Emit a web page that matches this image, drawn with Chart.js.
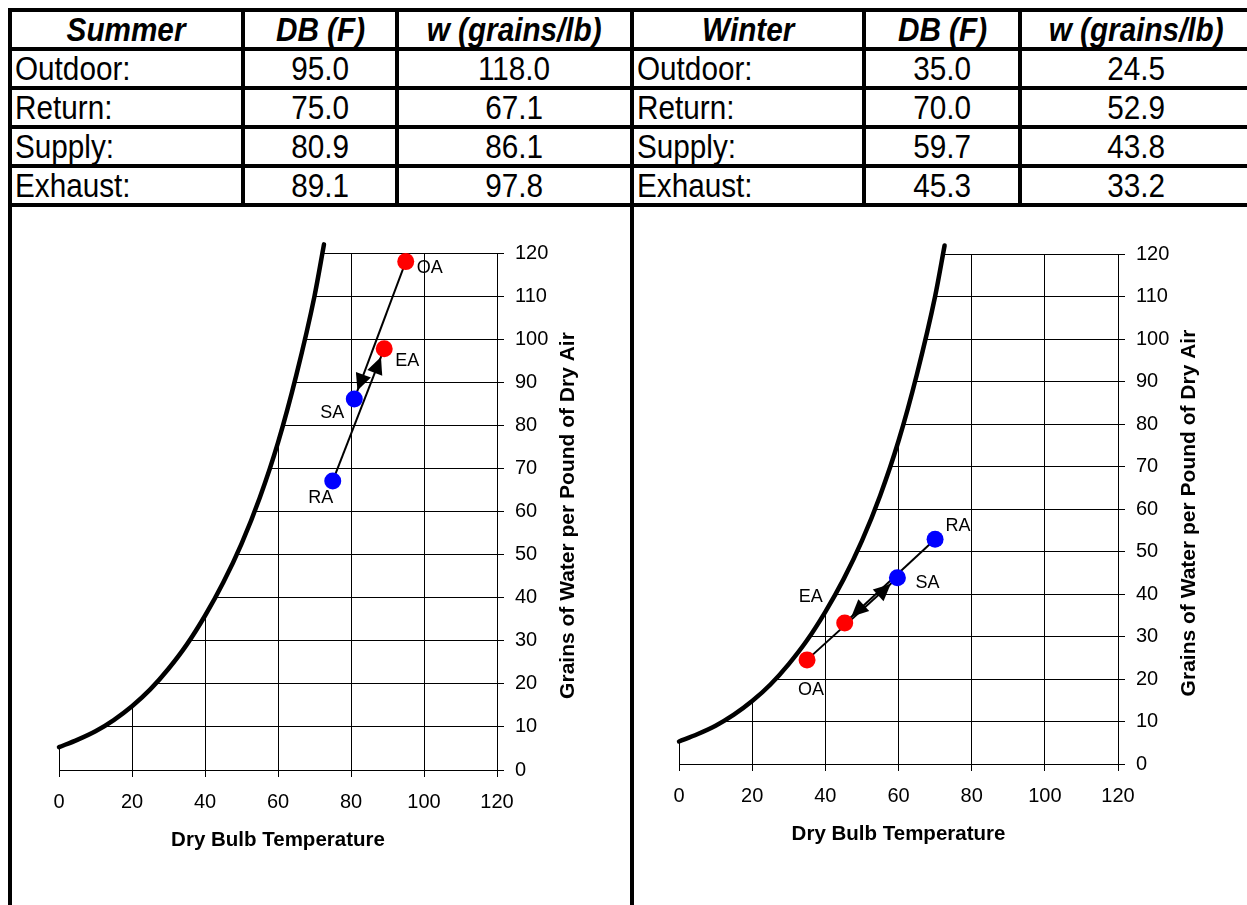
<!DOCTYPE html>
<html>
<head>
<meta charset="utf-8">
<title>Heat recovery - summer / winter</title>
<script src="https://cdn.jsdelivr.net/npm/chart.js@4.4.1/dist/chart.umd.min.js"></script>
<style>
  html, body { margin: 0; padding: 0; background: #fff; overflow: hidden; width: 1247px; height: 905px; }
  #sheet { position: absolute; left: 8px; top: 8px; width: 1242px; border-collapse: collapse; table-layout: fixed;
           font-family: Arial, "Liberation Sans", sans-serif; color: #000; }
  #sheet td { border: 4px solid #000; padding: 0; height: 35px; font-size: 33px; line-height: 35px;
              text-align: center; white-space: nowrap; overflow: hidden; }
  #sheet td span { display: inline-block; transform: scaleX(0.9); transform-origin: center center; }
  #sheet td.lbl { text-align: left; padding-left: 3px; }
  #sheet td.lbl span { transform-origin: left center; }
  #sheet tr.head td { font-weight: bold; font-style: italic; }
  #sheet tr.charts td { height: 720px; }
  canvas { position: absolute; }
  #summer { left: 10px; top: 205px; }
  #winter { left: 632px; top: 205px; }
</style>
</head>
<body>
<table id="sheet">
  <colgroup>
    <col style="width:233px"><col style="width:154px"><col style="width:235px">
    <col style="width:232px"><col style="width:156px"><col style="width:232px">
  </colgroup>
  <tbody id="rows"></tbody>
</table>
<canvas id="summer" width="618" height="700"></canvas>
<canvas id="winter" width="618" height="700"></canvas>
<script>
const headers = ['Summer', 'DB (F)', 'w (grains/lb)', 'Winter', 'DB (F)', 'w (grains/lb)'];
const rowLabels = ['Outdoor:', 'Return:', 'Supply:', 'Exhaust:'];
const pointNames = ['OA', 'RA', 'SA', 'EA'];

// dry bulb (F) and humidity ratio (grains/lb) for OA, RA, SA, EA
const summerDB = [95.0, 75.0, 80.9, 89.1];
const summerW = [118.0, 67.1, 86.1, 97.8];
const winterDB = [35.0, 70.0, 59.7, 45.3];
const winterW = [24.5, 52.9, 43.8, 33.2];

// saturation curve
const satDB = [0, 5, 10, 15, 20, 25, 30, 35, 40, 45, 50, 55, 60, 65, 70, 72.6];
const satW = [5.3, 7.0, 9.0, 11.6, 14.8, 18.7, 23.5, 29.1, 35.8, 43.5, 52.5, 63.2, 76.0, 91.6, 110.0, 122.0];

const xTicks = [0, 20, 40, 60, 80, 100, 120];
const yTicks = [0, 10, 20, 30, 40, 50, 60, 70, 80, 90, 100, 110, 120];

const arrowPairs = [['OA', 'SA'], ['RA', 'EA']];
const pointColors = ['#ff0000', '#0000ff', '#0000ff', '#ff0000'];

const FONT = 'Arial, "Liberation Sans", sans-serif';

// table
let html = '<tr class="head">' + headers.map(h => `<td><span>${h}</span></td>`).join('') + '</tr>';
for (let i = 0; i < rowLabels.length; i++) {
    html += '<tr>' +
        `<td class="lbl"><span>${rowLabels[i]}</span></td>` +
        `<td><span>${summerDB[i].toFixed(1)}</span></td>` +
        `<td><span>${summerW[i].toFixed(1)}</span></td>` +
        `<td class="lbl"><span>${rowLabels[i]}</span></td>` +
        `<td><span>${winterDB[i].toFixed(1)}</span></td>` +
        `<td><span>${winterW[i].toFixed(1)}</span></td>` +
        '</tr>';
}
html += '<tr class="charts"><td colspan="3"></td><td colspan="3"></td></tr>';
document.getElementById('rows').innerHTML = html;

// arrow heads, point labels and the right hand axis title (reads bottom to top)
const psychro = {
    id: 'psychro',
    afterDatasetDraw(chart, args) {
        const ds = chart.data.datasets[args.index];
        if (!ds.arrow) return;
        const pts = args.meta.data;
        const a = pts[0], b = pts[1];
        const ang = Math.atan2(b.y - a.y, b.x - a.x);
        const ctx = chart.ctx;
        ctx.save();
        ctx.translate(b.x - Math.cos(ang) * 9, b.y - Math.sin(ang) * 9);
        ctx.rotate(ang);
        ctx.beginPath();
        ctx.moveTo(0, 0);
        ctx.lineTo(-17, -8);
        ctx.lineTo(-17, 8);
        ctx.closePath();
        ctx.fillStyle = '#000';
        ctx.fill();
        ctx.restore();
    },
    afterDraw(chart, args, opts) {
        const ctx = chart.ctx;
        const meta = chart.getDatasetMeta(0);
        ctx.save();
        ctx.fillStyle = '#000';
        ctx.font = '18px ' + FONT;
        ctx.textAlign = 'center';
        ctx.textBaseline = 'middle';
        meta.data.forEach((p, i) => {
            const off = opts.offsets[pointNames[i]];
            ctx.fillText(pointNames[i], p.x + off[0], p.y + off[1]);
        });
        const y = chart.scales.y;
        const area = chart.chartArea;
        ctx.translate(y.left + 71, (area.top + area.bottom) / 2 + 4);
        ctx.rotate(-Math.PI / 2);
        ctx.font = 'bold 21px ' + FONT;
        ctx.fillText(opts.yTitle, 0, 0);
        ctx.restore();
    }
};

function makeChart(id, db, w, padding, offsets) {
    const pos = {};
    pointNames.forEach((n, i) => pos[n] = {x: db[i], y: w[i]});

    const datasets = [{
        data: pointNames.map(n => pos[n]),
        showLine: false,
        pointRadius: 8.5,
        pointBorderWidth: 0,
        pointBackgroundColor: pointColors,
        order: 0
    }];
    arrowPairs.forEach(pair => {
        datasets.push({
            data: [pos[pair[0]], pos[pair[1]]],
            arrow: true,
            borderColor: '#000',
            borderWidth: 2,
            pointRadius: 0,
            order: 1
        });
    });
    datasets.push({
        data: satDB.map((t, i) => ({x: t, y: satW[i]})),
        borderColor: '#000',
        borderWidth: 4.5,
        borderCapStyle: 'round',
        cubicInterpolationMode: 'monotone',
        pointRadius: 0,
        fill: 'end',
        backgroundColor: '#fff',
        clip: false,
        order: 2
    });

    const tickFont = {size: 20, family: FONT};
    return new Chart(document.getElementById(id), {
        type: 'line',
        data: {datasets: datasets},
        options: {
            responsive: false,
            animation: false,
            events: [],
            layout: {padding: padding},
            plugins: {
                legend: {display: false},
                tooltip: {enabled: false},
                psychro: {offsets: offsets, yTitle: 'Grains of Water per Pound of Dry Air'}
            },
            scales: {
                x: {
                    type: 'linear',
                    min: xTicks[0],
                    max: xTicks[xTicks.length - 1],
                    afterBuildTicks: s => { s.ticks = xTicks.map(v => ({value: v})); },
                    ticks: {color: '#000', font: tickFont, padding: 13, maxRotation: 0},
                    grid: {color: '#000', lineWidth: 1, tickLength: 7},
                    border: {color: '#000', width: 1},
                    title: {
                        display: true,
                        text: 'Dry Bulb Temperature',
                        color: '#000',
                        font: {size: 20.5, weight: 'bold', family: FONT},
                        padding: {top: 0, bottom: 7}
                    },
                    afterFit: s => { s.height = 90; }
                },
                y: {
                    type: 'linear',
                    position: 'right',
                    min: yTicks[0],
                    max: yTicks[yTicks.length - 1],
                    afterBuildTicks: s => { s.ticks = yTicks.map(v => ({value: v})); },
                    ticks: {color: '#000', font: tickFont, padding: 11},
                    grid: {color: '#000', lineWidth: 1, tickLength: 7},
                    border: {color: '#000', width: 1},
                    afterFit: s => { s.width = 100; }
                }
            }
        },
        plugins: [psychro]
    });
}

makeChart('summer', summerDB, summerW, {left: 49, top: 48, right: 31, bottom: 45},
    {OA: [24, 6], RA: [-12, 17], SA: [-22, 14], EA: [23, 12]});
makeChart('winter', winterDB, winterW, {left: 47, top: 49, right: 32, bottom: 51},
    {OA: [4, 30], RA: [23, -13], SA: [30, 5], EA: [-34, -26]});
</script>
</body>
</html>
